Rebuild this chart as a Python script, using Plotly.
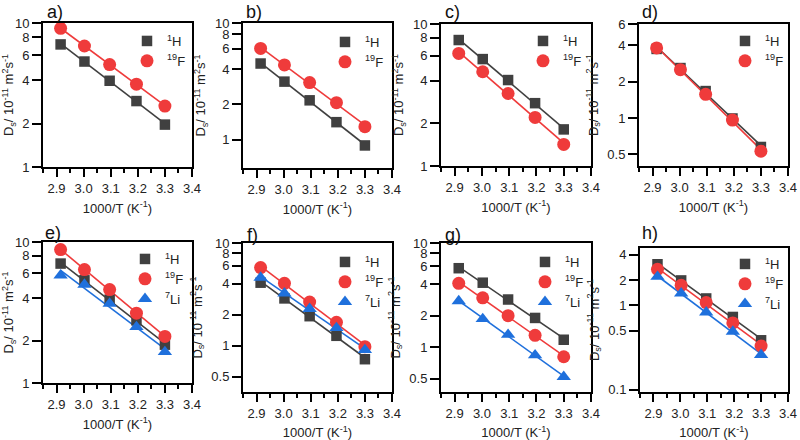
import numpy as np
import plotly.graph_objects as go

# ---------------- data ----------------
inv_T = [2.915, 3.003, 3.096, 3.195, 3.300]          # 1000/T (K^-1)

a_H = [7.10, 5.40, 3.97, 2.87, 1.97]
a_F = [9.18, 6.92, 5.14, 3.76, 2.65]
b_H = [4.49, 3.14, 2.17, 1.41, 0.89]
b_F = [6.05, 4.37, 3.08, 2.07, 1.29]
c_H = [7.71, 5.66, 4.03, 2.77, 1.81]
c_F = [6.21, 4.61, 3.24, 2.20, 1.42]
d_H = [3.73, 2.59, 1.67, 0.99, 0.575]
d_F = [3.80, 2.51, 1.57, 0.96, 0.53]
e_H = [7.03, 5.35, 3.90, 2.78, 1.87]
e_F = [8.83, 6.37, 4.60, 3.13, 2.14]
e_Li = [5.80, 4.99, 3.66, 2.50, 1.66]
f_H = [4.11, 2.89, 1.94, 1.25, 0.74]
f_F = [5.77, 4.05, 2.66, 1.69, 0.98]
f_Li = [4.61, 3.24, 2.29, 1.49, 0.91]
g_H = [5.73, 4.16, 2.87, 1.91, 1.18]
g_F = [4.10, 2.98, 2.01, 1.30, 0.81]
g_Li = [2.77, 1.87, 1.32, 0.84, 0.52]
h_H = [3.08, 1.98, 1.21, 0.73, 0.386]
h_F = [2.68, 1.73, 1.08, 0.62, 0.33]
h_Li = [2.19, 1.39, 0.83, 0.49, 0.26]

x_ticks = [2.9, 3.0, 3.1, 3.2, 3.3, 3.4]
x_ticktext = ["2.9", "3.0", "3.1", "3.2", "3.3", "3.4"]
y_ticks_1_10 = [1, 2, 4, 6, 8, 10]
y_ticks_d = [0.5, 1, 2, 4, 6]
y_ticks_fg = [0.5, 1, 2, 4, 6, 8, 10]
y_ticks_h = [0.1, 0.5, 1, 2, 4]

nuclei = {
    "H": dict(name="<sup>1</sup>H", color="#404040", symbol="square", size=10.5),
    "F": dict(name="<sup>19</sup>F", color="#EF3B3B", symbol="circle", size=13),
    "Li": dict(name="<sup>7</sup>Li", color="#1F70DC", symbol="triangle-up", size=12.5),
}

# panel layout (pixel boxes in an 800x440 canvas)
panels = [
    dict(lab="a)", bx=(43, 192), by=(23, 167), yr=(1, 10), yt=y_ticks_1_10,
         ser=[("H", a_H), ("F", a_F)], leg=(149, 39), labpos=(45, 12)),
    dict(lab="b)", bx=(243, 392), by=(23, 168), yr=(0.57, 10), yt=y_ticks_1_10,
         ser=[("H", b_H), ("F", b_F)], leg=(347, 40), labpos=(244, 12)),
    dict(lab="c)", bx=(441, 591), by=(24, 166), yr=(1, 10), yt=y_ticks_1_10,
         ser=[("H", c_H), ("F", c_F)], leg=(545, 39), labpos=(443, 12)),
    dict(lab="d)", bx=(639, 788), by=(24, 166), yr=(0.4, 6), yt=y_ticks_d,
         ser=[("H", d_H), ("F", d_F)], leg=(747, 39), labpos=(640, 12)),
    dict(lab="e)", bx=(43, 192), by=(242, 383), yr=(1, 10), yt=y_ticks_1_10,
         ser=[("H", e_H), ("F", e_F), ("Li", e_Li)], leg=(147, 257), labpos=(43, 233)),
    dict(lab="f)", bx=(243, 392), by=(243, 392), yr=(0.355, 10), yt=y_ticks_fg,
         ser=[("H", f_H), ("F", f_F), ("Li", f_Li)], leg=(347, 260), labpos=(245, 235)),
    dict(lab="g)", bx=(441, 591), by=(243, 392), yr=(0.372, 10), yt=y_ticks_fg,
         ser=[("H", g_H), ("F", g_F), ("Li", g_Li)], leg=(547, 260), labpos=(443, 235)),
    dict(lab="h)", bx=(640, 788), by=(248, 392), yr=(0.094, 4.8), yt=y_ticks_h,
         ser=[("H", h_H), ("F", h_F), ("Li", h_Li)], leg=(747, 262), labpos=(640, 233)),
]

W, H = 800, 440
FONT = "Arial, Liberation Sans, sans-serif"

fig = go.Figure()
layout = dict(
    width=W, height=H, margin=dict(l=0, r=0, t=0, b=0),
    paper_bgcolor="white", plot_bgcolor="white",
    font=dict(family=FONT, size=13, color="#222222"),
    annotations=[],
)

for i, p in enumerate(panels):
    n = i + 1
    xs_name = "x" if n == 1 else f"x{n}"
    ys_name = "y" if n == 1 else f"y{n}"
    xl_name = "xaxis" if n == 1 else f"xaxis{n}"
    yl_name = "yaxis" if n == 1 else f"yaxis{n}"
    leg_name = "legend" if n == 1 else f"legend{n}"

    # fitted Arrhenius lines (least squares in log space)
    for nuc, vals in p["ser"]:
        st = nuclei[nuc]
        coef = np.polyfit(inv_T, np.log10(vals), 1)
        xl = np.array([inv_T[0], inv_T[-1]])
        fig.add_trace(go.Scatter(
            x=xl, y=10 ** np.polyval(coef, xl), mode="lines",
            line=dict(color=st["color"], width=1.6),
            showlegend=False, hoverinfo="skip",
            xaxis=xs_name, yaxis=ys_name))
    for nuc, vals in p["ser"]:
        st = nuclei[nuc]
        fig.add_trace(go.Scatter(
            x=inv_T, y=vals, mode="markers", name=st["name"],
            marker=dict(color=st["color"], symbol=st["symbol"], size=st["size"],
                        line=dict(width=0)),
            legend=leg_name, xaxis=xs_name, yaxis=ys_name))

    x0, x1 = p["bx"]
    y0, y1 = p["by"]
    layout[xl_name] = dict(
        domain=[x0 / W, x1 / W], anchor=ys_name, range=[2.85, 3.4],
        tickmode="array", tickvals=x_ticks, ticktext=x_ticktext,
        ticks="outside", ticklen=8, tickwidth=2, tickcolor="black",
        minor=dict(ticks="outside", ticklen=4, tickwidth=2, tickcolor="black",
                   dtick=0.05, tick0=2.85),
        showline=True, linecolor="black", linewidth=2, mirror=True,
        showgrid=False, zeroline=False, automargin=False,
        tickfont=dict(size=13, color="#222222"),
        title=dict(text="1000/T (K<sup>-1</sup>)", font=dict(size=13, color="#222222"),
                   standoff=9),
    )
    layout[yl_name] = dict(
        domain=[1 - y1 / H, 1 - y0 / H], anchor=xs_name, type="log",
        range=[np.log10(p["yr"][0]), np.log10(p["yr"][1])],
        tickmode="array", tickvals=p["yt"], ticktext=[f"{v:g}" for v in p["yt"]],
        ticks="outside", ticklen=9, tickwidth=2, tickcolor="black",
        showline=True, linecolor="black", linewidth=2, mirror=True,
        showgrid=False, zeroline=False, automargin=False,
        tickfont=dict(size=13, color="#222222"),
        title=dict(text="D<sub>s</sub>/ 10<sup>-11</sup> m<sup>2</sup>s<sup>-1</sup>",
                   font=dict(size=13, color="#222222"), standoff=6),
    )
    lx, ly = p["leg"]
    layout[leg_name] = dict(
        x=(lx - 22) / W, y=1 - (ly - 13) / H, xanchor="left", yanchor="top",
        bgcolor="rgba(0,0,0,0)", borderwidth=0,
        font=dict(size=13, color="#222222"), itemclick=False, itemdoubleclick=False,
        tracegroupgap=0,
    )
    tx, ty = p["labpos"]
    layout["annotations"].append(dict(
        text=p["lab"], x=tx / W, y=1 - ty / H, xref="paper", yref="paper",
        xanchor="left", yanchor="middle", showarrow=False,
        font=dict(size=18, color="#111111", family=FONT)))

fig.update_layout(**layout)
fig.write_html("out.html", config={"displayModeBar": False},
               post_script="document.body.style.margin='0';document.body.style.overflow='hidden';")
